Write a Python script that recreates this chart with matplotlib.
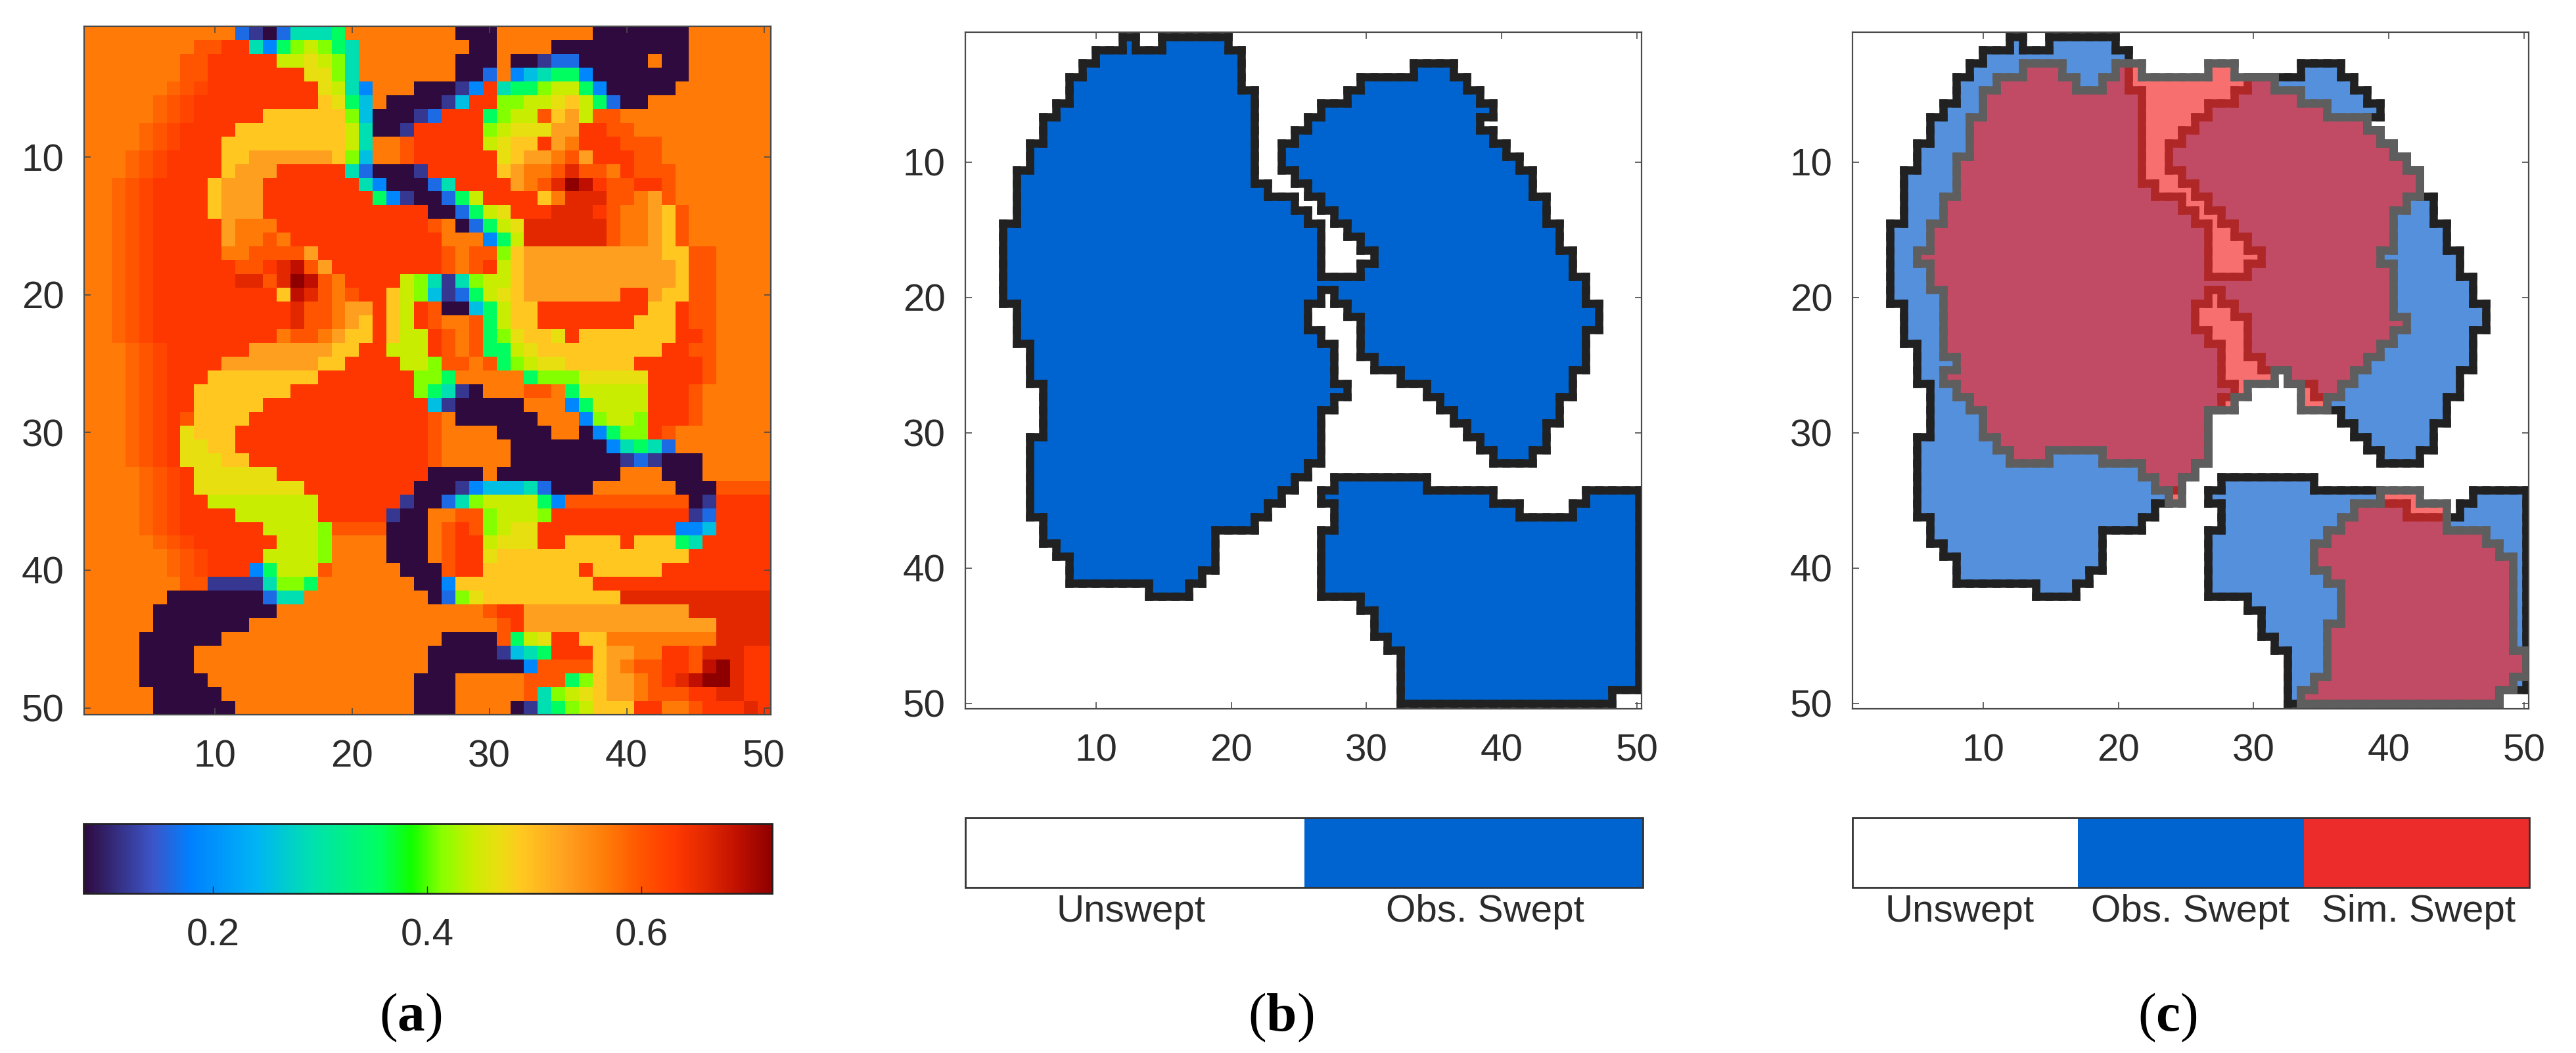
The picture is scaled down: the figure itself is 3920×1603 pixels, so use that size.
"""Sweep efficiency map with observed and simulated swept areas"""

import re

import matplotlib

matplotlib.use("Agg")  # no display needed; save to file
import matplotlib.pyplot as plt
import numpy as np
from matplotlib.cm import ScalarMappable
from matplotlib.collections import LineCollection
from matplotlib.colors import LinearSegmentedColormap, ListedColormap, Normalize

# field values per level letter
LEVELS = {
    "P": 0.079, "p": 0.118, "b": 0.163, "a": 0.188, "c": 0.253, "t": 0.291,
    "g": 0.355, "l": 0.413, "y": 0.442, "Y": 0.465, "G": 0.489, "o": 0.529,
    "O": 0.568, "q": 0.585, "r": 0.600, "s": 0.617, "R": 0.632, "d": 0.658,
    "e": 0.690, "D": 0.722,
}

# panel (a), one run-length string per grid row
FIELD_ROWS = [
    "11O b p P b 2t t g 8O 3P 7O 7P 6O",
    "8O 2r 2R t a g l y l g t 8O 2P 4O 10P 6O",
    "7O 2r 5R 2y Y y l t 7O 3P O 2P p 2b 5P O 2P 6O",
    "7O 2r 7R 2Y l t 7O 2P b O a c t 2g a 7P 6O",
    "6O q r s 8R Y y t a 3O 3P p a R t 2g l 2y g a 5P 7O",
    "5O q r s 9R G Y g c O 3P P p c 2R 2l 2y Y G y g b 2P 9O",
    "5O q r s 5R 6G l c 3P p b 3R g l 2y r G o y 2r 11O",
    "4O q r s 4R 8G y t 2P p 5R l y 3Y 2o 2R 2r 10O",
    "4O q r s 3R 9G y t 2O r 5R y Y 2G R o O 3R 3r 8O",
    "3O q r s 4R 2G 6o G l c 2O r 6R Y G 2o O r o 3R 2r 8O",
    "3O q r s 4R G 3o 5R t b 3P p 5R G o 2O r d 2r O R 3r 7O",
    "2O q r s 4R G 3o 7R t a 3P b t 4R o O r d D e R 2r 2R r 7O",
    "2O q r s 4R G 3o 8R g a p 2P b g y 4R G O 3d 2r O o r 7O",
    "2O q r s 4R G 3o 12R 2P b g y Y 3R 3d R r 2O o G r 6O",
    "2O q r s 5R o 3O 11R r O P b g y Y 6d r 2O o G r 6O",
    "2O q r s 5R o 2O r O 11R 3O a g y 6d r 2O o G r 6O",
    "2O q r s 5R 2O 4r o 9R r O 2r l G 10o 2G 2r 4O",
    "2O q r s 6R 2r R d e r o 8R r O r R y G 11o G 2r 4O",
    "2O q r s 6R 2d r d D e r O 4R y l t p t l 2y G 11o G 2r 4O",
    "2O q r s 9R G e d r O r 2R G y l c p b g y Y G 7o 2R o 2G 2r 4O",
    "2O q r s 10R d 2r O 2o R G y R r 2P c g y 2G 8R 2G R 2r 4O",
    "2O q r s 10R d 2r O o G R G y R r 2O r g y 2G 7R 3G R 2r 4O",
    "2O q r s 9R O 2r O o 2G R G 2y R r O r g l Y 2G Y R 7G 2R r 4O",
    "3O q r s 6R 6o 2G 2R y 2y R r O r 2g y Y 9G 2R 2r 4O",
    "3O q r s 4R 7o 2G 4R 2y l 2r O r g l y 2Y 5G 5R r 4O",
    "3O q r s 3R 8G 7R 2l g 5O g 3l 5Y 4R r 4O",
    "3O q r s 2R 7G 9R l g t p P 3O 2r O g 5y 3R r 5O",
    "3O q r s 2R 5G 12R c p 5P 3O a g 4y 3R r 5O",
    "3O q r s R r 4G 13R r O 6P 3O a l 2y l 3R r 5O",
    "3O q r s R Y 3G 14R r 4O 4P 2O P a g 2l R r 7O",
    "3O q r s R 2Y 2G 14R r 5O 7P a t g t b 7O",
    "3O q r s R 3Y 2G 13R r 5O 8P p b p 3P 5O",
    "4O q r s R 6Y 11R 4P O 9P 3O 3P 5O",
    "4O q r s R 8Y 8R 3P p a 3c t b 3P 6O 3P 4r",
    "4O q r s 2R 8y 6R p 2P b t l 4y g a 9r P p 4R",
    "4O q r s 4R 6y 5R p 2P 2O 2r l 3y l 10R p b 4R",
    "4O q r s 6R 4y l 4r 3P O r R r l y 2Y 10R 2a c 4R",
    "5O q r s 6R 3y l 4O 3P O r 2R y 3Y 2R 4G R 3G g t 5R",
    "6O q r s 4R 4y l 4O 3P O r 2R Y 14G 6R",
    "6O q r s 3R a g 3y r 5O 3P r 2R 7G R 5G 8R",
    "7O 2r 4p t 2l g 7O 2P a 10G 13R",
    "6O 7P b 2t 9O P b l Y 10G 11d",
    "5O 9P 15O r 2R 12o 6d",
    "5O 7P 18O r R 14o 4d",
    "4O 6P 16O 4P r g y Y 2R 2G 8O 4d",
    "4O 4P 17O 5P p c t g 3R G 2o 2O 2R r 3d 2R",
    "4O 4P 17O 7P a 4r G o O 2r 2R r e D d 2R",
    "4O 5P 15O 3P 5O 3r g l G 2o O r R d e 2D d 2R",
    "5O 5P 14O 3P 5O r t l y Y G 2o O 3r 2R 2d 2R",
    "5O 6P 13O 3P 4O P p t g l y 3G 2R 2O r 3R d R",
]

# panels (b) and (c), swept column spans per row (start line, end line)
OBS_SPANS = [
    [(12, 13), (15, 20)], [(10, 21)], [(9, 21), (34, 37)], [(8, 21), (30, 38)],
    [(8, 22), (29, 39)], [(7, 22), (27, 40)], [(6, 22), (26, 39)], [(6, 22), (25, 40)],
    [(5, 22), (24, 41)], [(5, 22), (24, 42)], [(4, 22), (25, 43)], [(4, 23), (26, 43)],
    [(4, 25), (27, 44)], [(4, 26), (28, 44)], [(3, 27), (29, 45)], [(3, 27), (30, 45)],
    [(3, 27), (31, 46)], [(3, 27), (30, 46)], [(3, 47)], [(3, 27), (28, 47)],
    [(4, 26), (29, 48)], [(4, 26), (30, 48)], [(4, 27), (30, 47)], [(5, 28), (30, 47)],
    [(5, 28), (31, 47)], [(5, 28), (33, 46)], [(6, 29), (35, 46)], [(6, 28), (36, 45)],
    [(6, 27), (37, 45)], [(6, 27), (38, 44)], [(5, 27), (39, 44)], [(5, 27), (40, 43)],
    [(5, 26)], [(5, 25), (28, 35)], [(5, 24), (27, 40), (47, 51)],
    [(5, 23), (28, 42), (46, 51)], [(6, 22), (28, 51)], [(6, 19), (27, 51)],
    [(7, 19), (27, 51)], [(8, 19), (27, 51)], [(8, 18), (27, 51)], [(14, 17), (27, 51)],
    [(30, 51)], [(31, 51)], [(31, 51)], [(32, 51)], [(33, 51)], [(33, 51)], [(33, 51)],
    [(33, 49)],
]
SIM_SPANS = [
    [], [], [(13, 16), (20, 22), (27, 29)], [(11, 17), (19, 32)], [(10, 34)], [(10, 36)],
    [(9, 39)], [(9, 40)], [(9, 41)], [(8, 42)], [(8, 43)], [(8, 43)], [(7, 42)], [(7, 41)],
    [(6, 41)], [(6, 41)], [(5, 40)], [(6, 41)], [(6, 41)], [(7, 41)], [(7, 41)], [(7, 42)],
    [(7, 41)], [(7, 40)], [(8, 39)], [(7, 32), (33, 38)], [(8, 30), (34, 37)],
    [(9, 29), (34, 36)], [(10, 27)], [(10, 27)], [(11, 27)], [(12, 15), (19, 27)],
    [(22, 26)], [(23, 25)], [(24, 25), (40, 43)], [(38, 45)], [(37, 45)], [(36, 48)],
    [(35, 49)], [(35, 50)], [(36, 50)], [(37, 50)], [(37, 50)], [(37, 50)], [(36, 50)],
    [(36, 50)], [(36, 51)], [(36, 51)], [(35, 50)], [(34, 49)],
]

FIELD_TICKS = [10, 20, 30, 40, 50]
CBAR_TICKS = [0.2, 0.4, 0.6]
CLASS_NAMES_B = ["Unswept", "Obs. Swept"]
CLASS_NAMES_C = ["Unswept", "Obs. Swept", "Sim. Swept"]

W, H = 3920, 1603
plt.rcParams["font.family"] = ["Liberation Sans", "DejaVu Sans"]
plt.rcParams["mathtext.fontset"] = "custom"
plt.rcParams["mathtext.rm"] = "Liberation Serif"
plt.rcParams["mathtext.bf"] = "Liberation Serif:bold"

TEXT = "#2b2b2b"
FRAME = "#4a4a4a"
OUTLINE_W = 9.0


def px_axes(fig, x0, y0, x1, y1):
    return fig.add_axes([x0 / W, 1 - y1 / H, (x1 - x0) / W, (y1 - y0) / H])


def expand(row):
    cells = []
    for n, ch in re.findall(r"(\d*)([A-Za-z])", row):
        cells += [LEVELS[ch]] * int(n or 1)
    return cells[:50] + [cells[-1]] * (50 - len(cells))


def to_mask(spans):
    mask = np.zeros((50, 50), dtype=bool)
    for r, row in enumerate(spans):
        for a, b in row:
            mask[r, a - 1 : b - 1] = True
    return mask


def outline(mask, xe, ye):
    """Stair-step outline of a mask as line segments along the cell edges."""
    m = np.pad(mask, 1)
    segs = []
    for r in range(51):
        for c in range(50):
            if m[r, c + 1] != m[r + 1, c + 1]:
                segs.append([(xe[c], ye[r]), (xe[c + 1], ye[r])])
    for r in range(50):
        for c in range(51):
            if m[r + 1, c] != m[r + 1, c + 1]:
                segs.append([(xe[c], ye[r]), (xe[c], ye[r + 1])])
    return segs


def style_axes(ax):
    ax.set_xticks(FIELD_TICKS)
    ax.set_yticks(FIELD_TICKS)
    ax.tick_params(
        direction="in", top=True, right=True, length=7, width=1.2, color=FRAME,
        labelsize=42, labelcolor=TEXT, pad=22,
    )
    ax.tick_params(axis="x", pad=27)
    for s in ax.spines.values():
        s.set_color(FRAME)
        s.set_linewidth(1.6)


def class_bar(fig, box, colors, names, ticks):
    ax = px_axes(fig, *box)
    sm = ScalarMappable(norm=Normalize(0, len(colors)), cmap=ListedColormap(colors))
    cb = fig.colorbar(sm, cax=ax, orientation="horizontal")
    cb.set_ticks(ticks)
    cb.set_ticklabels(names)
    cb.ax.tick_params(length=0, labelsize=42, labelcolor=TEXT, pad=7)
    cb.outline.set_edgecolor("#333333")
    cb.outline.set_linewidth(2)


fig = plt.figure(figsize=(W / 100, H / 100), dpi=100, facecolor="white")

# --- panel (a): field map and colorbar ---
field = np.array([expand(r) for r in FIELD_ROWS])
vmin, vmax = 0.079, 0.722
stops = [
    (0.0, "#2e0a3e"), (0.10, "#3c55c8"), (0.155, "#0080ff"), (0.25, "#00b4f5"),
    (0.33, "#00e0b0"), (0.43, "#00ff60"), (0.476, "#10ff00"), (0.52, "#88ff00"),
    (0.565, "#c8ee00"), (0.60, "#e8e010"), (0.637, "#ffc820"), (0.70, "#ffa020"),
    (0.76, "#ff7b08"), (0.81, "#ff5500"), (0.86, "#ff3800"), (0.90, "#e52a00"),
    (0.95, "#c01000"), (1.0, "#8e0000"),
]
jetish = LinearSegmentedColormap.from_list("field", stops, N=512)

ax = px_axes(fig, 128, 40, 1173, 1088)
im = ax.imshow(field, cmap=jetish, vmin=vmin, vmax=vmax, extent=(0.5, 50.5, 50.5, 0.5),
               interpolation="nearest", aspect="auto")
style_axes(ax)

cax = px_axes(fig, 127, 1254, 1175, 1360)
cb = fig.colorbar(im, cax=cax, orientation="horizontal")
cb.set_ticks(CBAR_TICKS)
cb.set_ticklabels([f"{v:.1f}" for v in CBAR_TICKS])
cb.ax.tick_params(direction="in", length=8, width=1, color="#222222", labelsize=42,
                  labelcolor=TEXT, pad=27)
cb.outline.set_edgecolor("#222222")
cb.outline.set_linewidth(2)

# --- panels (b) and (c): swept areas ---
obs = to_mask(OBS_SPANS)
sim = to_mask(SIM_SPANS)
x_edges = np.linspace(1.18, 50.12, 51)
y_edges = np.linspace(0.74, 50.0, 51)
xlim = (0.35, 50.33)
ylim = (50.4, 0.41)

ax = px_axes(fig, 1469, 49, 2498, 1079)
ax.pcolormesh(x_edges, y_edges, np.ma.masked_where(~obs, obs.astype(float)),
              cmap=ListedColormap(["#0064d0"]), zorder=1)
ax.add_collection(LineCollection(outline(obs, x_edges, y_edges), colors="#212121",
                                 linewidths=OUTLINE_W, capstyle="projecting", zorder=2))
ax.set_xlim(xlim)
ax.set_ylim(ylim)
style_axes(ax)

ax = px_axes(fig, 2819, 49, 3848, 1079)
ax.pcolormesh(x_edges, y_edges, np.ma.masked_where(~obs, obs.astype(float)),
              cmap=ListedColormap(["#5590dd"]), zorder=1)
ax.add_collection(LineCollection(outline(obs, x_edges, y_edges), colors="#212121",
                                 linewidths=OUTLINE_W, capstyle="projecting", zorder=2))
ax.pcolormesh(x_edges, y_edges, np.ma.masked_where(~sim, sim.astype(float)),
              cmap=ListedColormap(["#f52b2b"]), alpha=0.68, zorder=3)
ax.add_collection(LineCollection(outline(sim, x_edges, y_edges), colors="#5e5e5e",
                                 linewidths=OUTLINE_W, capstyle="projecting", zorder=4))
ax.set_xlim(xlim)
ax.set_ylim(ylim)
style_axes(ax)

class_bar(fig, (1469, 1245, 2500, 1351), ["#ffffff", "#0064d0"], CLASS_NAMES_B, [0.489, 1.534])
class_bar(fig, (2819, 1245, 3849, 1351), ["#ffffff", "#0064d0", "#ec2b2b"], CLASS_NAMES_C,
          [0.475, 1.497, 2.51])

# --- panel letters ---
for x, letter in ((625, "a"), (1949, "b"), (3298, "c")):
    fig.text(x / W, 1 - 1549 / H, rf"($\mathbf{{{letter}}}$)", family="Liberation Serif",
             fontsize=60, ha="center", va="center", color="black")

fig.savefig("out.png", dpi=100)
